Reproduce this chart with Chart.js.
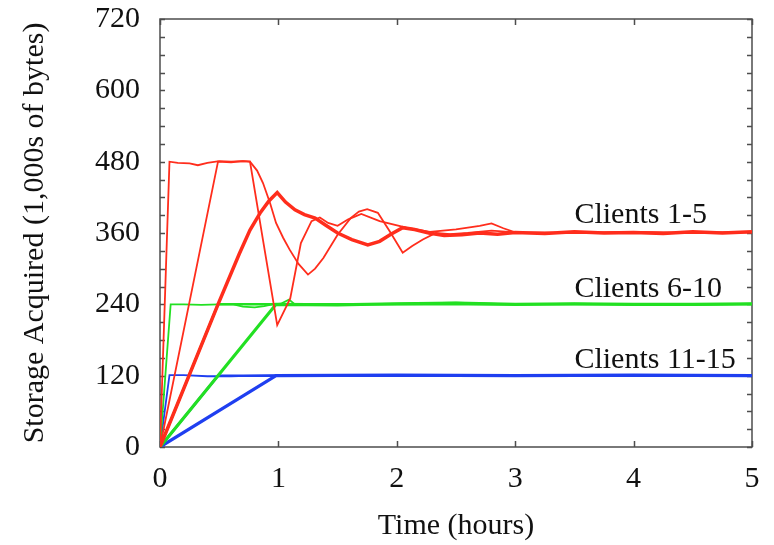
<!DOCTYPE html>
<html>
<head>
<meta charset="utf-8">
<script src="https://cdn.jsdelivr.net/npm/chart.js@4.4.1/dist/chart.umd.min.js"></script>
<style>
  html, body { margin: 0; padding: 0; background: #fff; }
  #wrap { width: 774px; height: 545px; }
</style>
</head>
<body>
<div id="wrap"><canvas id="chart"></canvas></div>
<script>
// axes
const xTicks = [0, 1, 2, 3, 4, 5];
const yTicks = [0, 120, 240, 360, 480, 600, 720];
const yMinor = 30;

// Clients 1-5 (red)
const redFastT = [0, 0.08, 0.15, 0.25, 0.32, 0.4, 0.5, 0.6, 0.7, 0.76, 0.87, 0.99, 1.1, 1.19, 1.28, 1.35, 1.42, 1.5, 1.59, 1.7, 1.855, 2.08, 2.28, 2.5, 2.7, 2.8, 2.9, 3.0, 3.5, 4, 4.5, 5];
const redFastV = [0, 480, 478, 477, 474, 478, 481, 480, 481, 480, 348, 205, 250, 343, 380, 386, 377, 372, 383, 392, 380, 369, 362, 366, 372, 376, 368, 361, 360, 361, 360, 362];
const redMidT = [0, 0.49, 0.6, 0.7, 0.76, 0.82, 0.87, 0.93, 0.98, 1.04, 1.095, 1.17, 1.25, 1.31, 1.38, 1.5, 1.61, 1.68, 1.75, 1.84, 1.94, 2.05, 2.13, 2.22, 2.33, 2.45, 2.6, 2.8, 3.0, 3.5, 4, 4.5, 5];
const redMidV = [0, 480, 479, 481, 480, 465, 444, 410, 377, 352, 332, 308, 290, 300, 318, 357, 385, 396, 400, 394, 363, 327, 338, 349, 360, 358, 360, 364, 361, 360, 362, 360, 361];
const redSlowT = [0, 0.49, 0.67, 0.76, 0.85, 0.92, 0.99, 1.06, 1.14, 1.22, 1.31, 1.4, 1.5, 1.62, 1.755, 1.855, 1.95, 2.05, 2.15, 2.27, 2.4, 2.55, 2.7, 2.85, 3.0, 3.25, 3.5, 3.75, 4, 4.25, 4.5, 4.75, 5];
const redSlowV = [0, 240, 325, 365, 395, 414, 428, 412, 399, 391, 385, 373, 360, 349, 340, 346, 358, 369, 366, 360, 356, 357, 360, 358, 361, 359, 362, 360, 361, 359, 362, 360, 362];

// Clients 6-10 (green)
const greenFastT = [0, 0.09, 0.2, 0.35, 0.5, 0.62, 0.7, 0.8, 0.88, 0.95, 1.02, 1.09, 1.14, 1.3, 1.6, 2, 2.5, 3, 3.5, 4, 4.5, 5];
const greenFastV = [0, 240, 240, 239, 240, 240, 236, 235, 237, 240, 241, 248, 240, 239, 240, 241, 243, 240, 241, 240, 239, 241];
const greenMidT = [0, 0.49, 5];
const greenMidV = [0, 240, 240];
const greenSlowT = [0, 0.98, 1.5, 2, 2.5, 3, 3.5, 4, 4.5, 5];
const greenSlowV = [0, 240, 239, 241, 242, 240, 241, 240, 240, 241];

// Clients 11-15 (blue)
const blueFastT = [0, 0.08, 0.2, 0.4, 0.6, 0.8, 1.0, 1.5, 2, 3, 4, 5];
const blueFastV = [0, 121, 121, 119, 119, 120, 121, 120, 120, 121, 120, 121];
const blueMidT = [0, 0.49, 5];
const blueMidV = [0, 120, 120];
const blueSlowT = [0, 0.98, 2, 3, 4, 5];
const blueSlowV = [0, 120, 121, 120, 121, 120];

const groupLabels = ['Clients 1-5', 'Clients 6-10', 'Clients 11-15'];

const C = {red: '#ff2d1c', green: '#22e022', blue: '#1f3ff0', axis: '#4d4d4d', text: '#111'};
const FONT = '"Liberation Serif", "Times New Roman", serif';

const pts = (T, V) => T.map((t, i) => ({x: t, y: V[i]}));
const ds = (T, V, color, w) => ({data: pts(T, V), borderColor: color, borderWidth: w, pointRadius: 0, tension: 0, fill: false});

// frame, inner ticks and group labels
const frame = {
  id: 'frame',
  beforeDatasetsDraw(chart) {
    const {ctx, chartArea: a, scales: {x, y}} = chart;
    ctx.save();
    ctx.strokeStyle = C.axis; ctx.lineWidth = 1.5;
    ctx.strokeRect(a.left, a.top, a.right - a.left, a.bottom - a.top);
    ctx.beginPath();
    for (let v = 0; v <= yTicks[yTicks.length - 1]; v += yMinor) {
      const py = Math.round(y.getPixelForValue(v)) + 0.5;
      ctx.moveTo(a.left, py); ctx.lineTo(a.left + 5, py);
      ctx.moveTo(a.right, py); ctx.lineTo(a.right - 5, py);
    }
    xTicks.forEach(t => {
      const px = Math.round(x.getPixelForValue(t)) + 0.5;
      ctx.moveTo(px, a.bottom); ctx.lineTo(px, a.bottom - 6);
      ctx.moveTo(px, a.top); ctx.lineTo(px, a.top + 6);
    });
    ctx.stroke();
    ctx.restore();
  },
  afterDraw(chart) {
    const {ctx, scales: {x, y}} = chart;
    const at = [[3.5, 377], [3.5, 252], [3.5, 133]];
    ctx.save();
    ctx.font = '30px ' + FONT; ctx.fillStyle = C.text;
    ctx.textAlign = 'left'; ctx.textBaseline = 'alphabetic';
    groupLabels.forEach((s, i) => ctx.fillText(s, x.getPixelForValue(at[i][0]), y.getPixelForValue(at[i][1])));
    ctx.restore();
  }
};

new Chart(document.getElementById('chart'), {
  type: 'line',
  data: {datasets: [
    ds(redFastT, redFastV, C.red, 1.8),
    ds(redMidT, redMidV, C.red, 1.8),
    ds(redSlowT, redSlowV, C.red, 3.5),
    ds(greenFastT, greenFastV, C.green, 1.8),
    ds(greenMidT, greenMidV, C.green, 2.5),
    ds(greenSlowT, greenSlowV, C.green, 3.2),
    ds(blueFastT, blueFastV, C.blue, 1.8),
    ds(blueMidT, blueMidV, C.blue, 2.5),
    ds(blueSlowT, blueSlowV, C.blue, 3.2)
  ]},
  options: {
    responsive: true, maintainAspectRatio: false, animation: false,
    layout: {padding: {top: 19, right: 22, left: 0, bottom: 0}},
    plugins: {legend: {display: false}, tooltip: {enabled: false}},
    scales: {
      x: {
        type: 'linear', min: 0, max: 5,
        afterBuildTicks: s => { s.ticks = xTicks.map(v => ({value: v})); },
        afterFit: s => { s.height = 98; s.paddingLeft = 0; s.paddingRight = 0; },
        grid: {display: false, drawTicks: false}, border: {display: false},
        ticks: {padding: 14, color: C.text, font: {family: FONT, size: 30}, maxRotation: 0},
        title: {display: true, text: 'Time (hours)', color: C.text, font: {family: FONT, size: 30}, padding: {top: 0, bottom: 1}}
      },
      y: {
        type: 'linear', min: 0, max: 720,
        afterBuildTicks: s => { s.ticks = yTicks.map(v => ({value: v})); },
        afterFit: s => { s.width = 160; s.paddingTop = 0; s.paddingBottom = 0; },
        grid: {display: false, drawTicks: false}, border: {display: false},
        ticks: {padding: 20, color: C.text, font: {family: FONT, size: 30}},
        title: {display: true, text: 'Storage Acquired (1,000s of bytes)', color: C.text, font: {family: FONT, size: 30}, padding: {top: 17, bottom: 0}}
      }
    }
  },
  plugins: [frame]
});
</script>
</body>
</html>
